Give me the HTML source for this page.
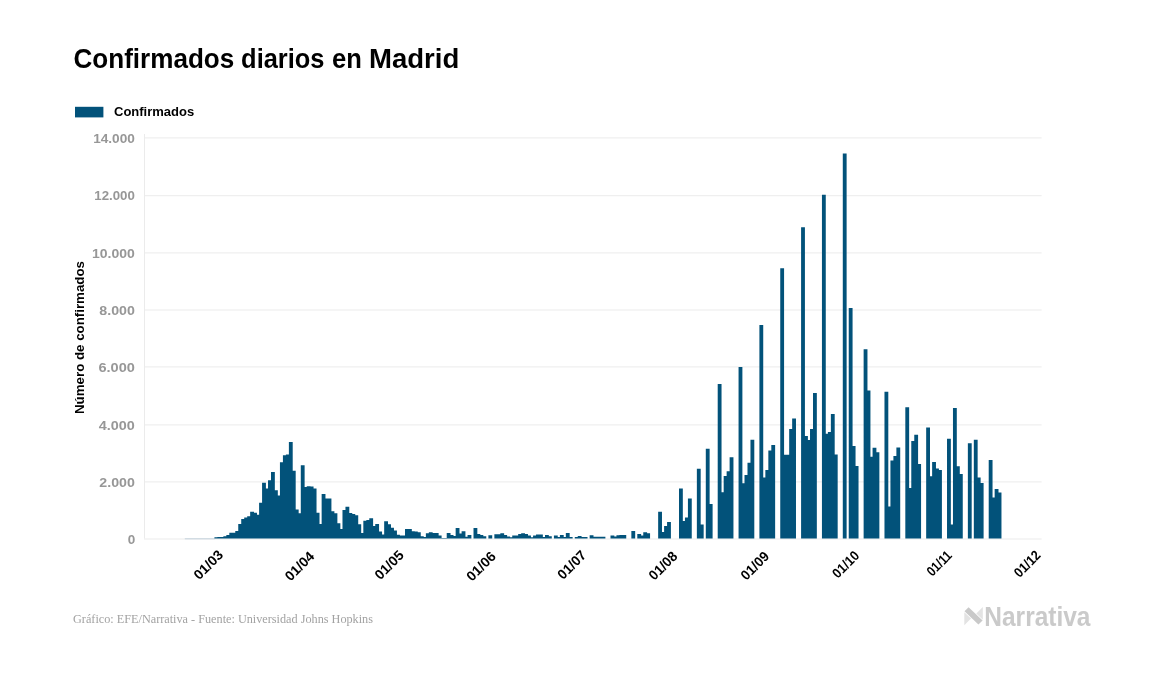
<!DOCTYPE html>
<html><head><meta charset="utf-8"><title>Confirmados diarios en Madrid</title>
<style>
html,body{margin:0;padding:0;background:#fff;}
body{width:1157px;height:674px;position:relative;overflow:hidden;font-family:"Liberation Sans",sans-serif;}
</style></head><body>
<svg width="1157" height="674" viewBox="0 0 1157 674" style="position:absolute;left:0;top:0;will-change:transform"><rect x="144" y="538.50" width="897.6" height="1" fill="#ebebeb"/><rect x="144" y="481.40" width="897.6" height="1" fill="#ebebeb"/><rect x="144" y="424.40" width="897.6" height="1" fill="#ebebeb"/><rect x="144" y="366.40" width="897.6" height="1" fill="#ebebeb"/><rect x="144" y="309.50" width="897.6" height="1" fill="#ebebeb"/><rect x="144" y="252.40" width="897.6" height="1" fill="#ebebeb"/><rect x="144" y="195.20" width="897.6" height="1" fill="#ebebeb"/><rect x="144" y="137.40" width="897.6" height="1" fill="#ebebeb"/><rect x="184.8" y="538.3" width="30" height="1" fill="#c3d2dc"/><rect x="144" y="134" width="1" height="404.5" fill="#ebebeb"/><path d="M214.43 538.50h3.828v-1.14h-3.828zM217.41 538.50h3.828v-1.40h-3.828zM220.38 538.50h3.828v-1.40h-3.828zM223.36 538.50h3.828v-2.20h-3.828zM226.34 538.50h3.828v-3.40h-3.828zM229.32 538.50h3.828v-5.69h-3.828zM232.30 538.50h3.828v-5.69h-3.828zM235.27 538.50h3.828v-7.60h-3.828zM238.25 538.50h3.828v-14.49h-3.828zM241.23 538.50h3.828v-19.61h-3.828zM244.21 538.50h3.828v-21.09h-3.828zM247.19 538.50h3.828v-22.29h-3.828zM250.16 538.50h3.828v-26.78h-3.828zM253.14 538.50h3.828v-25.81h-3.828zM256.12 538.50h3.828v-23.81h-3.828zM259.10 538.50h3.828v-35.81h-3.828zM262.08 538.50h3.828v-55.70h-3.828zM265.05 538.50h3.828v-50.02h-3.828zM268.03 538.50h3.828v-58.22h-3.828zM271.01 538.50h3.828v-66.51h-3.828zM273.99 538.50h3.828v-48.21h-3.828zM276.97 538.50h3.828v-43.10h-3.828zM279.94 538.50h3.828v-76.31h-3.828zM282.92 538.50h3.828v-83.20h-3.828zM285.90 538.50h3.828v-84.00h-3.828zM288.88 538.50h3.828v-96.60h-3.828zM291.86 538.50h3.828v-67.79h-3.828zM294.83 538.50h3.828v-28.89h-3.828zM297.81 538.50h3.828v-25.29h-3.828zM300.79 538.50h3.828v-73.19h-3.828zM303.77 538.50h3.828v-51.59h-3.828zM306.75 538.50h3.828v-52.30h-3.828zM309.72 538.50h3.828v-52.02h-3.828zM312.70 538.50h3.828v-50.02h-3.828zM315.68 538.50h3.828v-25.81h-3.828zM318.66 538.50h3.828v-14.49h-3.828zM321.64 538.50h3.828v-44.58h-3.828zM324.61 538.50h3.828v-40.01h-3.828zM327.59 538.50h3.828v-40.01h-3.828zM330.57 538.50h3.828v-27.29h-3.828zM333.55 538.50h3.828v-25.29h-3.828zM336.53 538.50h3.828v-15.29h-3.828zM339.50 538.50h3.828v-9.60h-3.828zM342.48 538.50h3.828v-28.61h-3.828zM345.46 538.50h3.828v-31.81h-3.828zM348.44 538.50h3.828v-25.49h-3.828zM351.42 538.50h3.828v-24.41h-3.828zM354.39 538.50h3.828v-23.29h-3.828zM357.37 538.50h3.828v-14.20h-3.828zM360.35 538.50h3.828v-5.49h-3.828zM363.33 538.50h3.828v-17.69h-3.828zM366.31 538.50h3.828v-18.49h-3.828zM369.28 538.50h3.828v-20.29h-3.828zM372.26 538.50h3.828v-12.49h-3.828zM375.24 538.50h3.828v-14.40h-3.828zM378.22 538.50h3.828v-7.00h-3.828zM381.20 538.50h3.828v-4.00h-3.828zM384.17 538.50h3.828v-17.29h-3.828zM387.15 538.50h3.828v-14.20h-3.828zM390.13 538.50h3.828v-10.69h-3.828zM393.11 538.50h3.828v-8.09h-3.828zM396.09 538.50h3.828v-3.86h-3.828zM399.06 538.50h3.828v-3.09h-3.828zM402.04 538.50h3.828v-3.09h-3.828zM405.02 538.50h3.828v-9.49h-3.828zM408.00 538.50h3.828v-9.49h-3.828zM410.98 538.50h3.828v-7.35h-3.828zM413.95 538.50h3.828v-7.00h-3.828zM416.93 538.50h3.828v-6.29h-3.828zM419.91 538.50h3.828v-2.29h-3.828zM422.89 538.50h3.828v-1.43h-3.828zM425.87 538.50h3.828v-5.20h-3.828zM428.84 538.50h3.828v-6.29h-3.828zM431.82 538.50h3.828v-5.60h-3.828zM434.80 538.50h3.828v-5.60h-3.828zM437.78 538.50h3.828v-3.09h-3.828zM440.76 538.50h3.828v-0.43h-3.828zM443.73 538.50h3.828v-0.43h-3.828zM446.71 538.50h3.828v-5.49h-3.828zM449.69 538.50h3.828v-3.60h-3.828zM452.67 538.50h3.828v-2.49h-3.828zM455.65 538.50h3.828v-10.60h-3.828zM458.62 538.50h3.828v-4.92h-3.828zM461.60 538.50h3.828v-7.32h-3.828zM464.58 538.50h3.828v-1.71h-3.828zM467.56 538.50h3.828v-3.52h-3.828zM473.51 538.50h3.828v-10.60h-3.828zM476.49 538.50h3.828v-4.40h-3.828zM479.47 538.50h3.828v-3.52h-3.828zM482.45 538.50h3.828v-2.20h-3.828zM485.43 538.50h3.828v-0.11h-3.828zM488.40 538.50h3.828v-3.20h-3.828zM494.36 538.50h3.828v-4.23h-3.828zM497.34 538.50h3.828v-4.23h-3.828zM500.32 538.50h3.828v-5.20h-3.828zM503.29 538.50h3.828v-3.60h-3.828zM506.27 538.50h3.828v-2.00h-3.828zM509.25 538.50h3.828v-1.34h-3.828zM512.23 538.50h3.828v-3.09h-3.828zM515.21 538.50h3.828v-3.09h-3.828zM518.18 538.50h3.828v-4.40h-3.828zM521.16 538.50h3.828v-5.20h-3.828zM524.14 538.50h3.828v-4.40h-3.828zM527.12 538.50h3.828v-3.09h-3.828zM530.10 538.50h3.828v-1.20h-3.828zM533.07 538.50h3.828v-3.09h-3.828zM536.05 538.50h3.828v-3.89h-3.828zM539.03 538.50h3.828v-3.89h-3.828zM542.01 538.50h3.828v-1.57h-3.828zM544.99 538.50h3.828v-3.60h-3.828zM547.96 538.50h3.828v-2.20h-3.828zM550.94 538.50h3.828v-0.11h-3.828zM553.92 538.50h3.828v-3.09h-3.828zM556.90 538.50h3.828v-1.49h-3.828zM559.88 538.50h3.828v-3.60h-3.828zM562.85 538.50h3.828v-1.49h-3.828zM565.83 538.50h3.828v-5.57h-3.828zM568.81 538.50h3.828v-1.57h-3.828zM574.77 538.50h3.828v-1.49h-3.828zM577.74 538.50h3.828v-2.49h-3.828zM580.72 538.50h3.828v-1.57h-3.828zM583.70 538.50h3.828v-1.57h-3.828zM589.66 538.50h3.828v-3.20h-3.828zM592.63 538.50h3.828v-1.71h-3.828zM595.61 538.50h3.828v-1.71h-3.828zM598.59 538.50h3.828v-1.71h-3.828zM601.57 538.50h3.828v-1.71h-3.828zM610.50 538.50h3.828v-3.09h-3.828zM613.48 538.50h3.828v-2.00h-3.828zM616.46 538.50h3.828v-3.29h-3.828zM619.44 538.50h3.828v-3.60h-3.828zM622.41 538.50h3.828v-3.52h-3.828zM631.35 538.50h3.828v-7.40h-3.828zM637.30 538.50h3.828v-4.40h-3.828zM640.28 538.50h3.828v-3.09h-3.828zM643.26 538.50h3.828v-6.29h-3.828zM646.24 538.50h3.828v-5.20h-3.828zM658.15 538.50h3.828v-26.69h-3.828zM661.13 538.50h3.828v-6.49h-3.828zM664.11 538.50h3.828v-12.60h-3.828zM667.08 538.50h3.828v-16.40h-3.828zM679.00 538.50h3.828v-50.10h-3.828zM681.97 538.50h3.828v-17.41h-3.828zM684.95 538.50h3.828v-21.01h-3.828zM687.93 538.50h3.828v-40.10h-3.828zM696.86 538.50h3.828v-69.71h-3.828zM699.84 538.50h3.828v-14.00h-3.828zM705.80 538.50h3.828v-89.63h-3.828zM708.78 538.50h3.828v-34.41h-3.828zM717.71 538.50h3.828v-154.50h-3.828zM720.69 538.50h3.828v-46.19h-3.828zM723.67 538.50h3.828v-62.39h-3.828zM726.64 538.50h3.828v-67.19h-3.828zM729.62 538.50h3.828v-81.20h-3.828zM738.56 538.50h3.828v-171.39h-3.828zM741.53 538.50h3.828v-55.19h-3.828zM744.51 538.50h3.828v-63.59h-3.828zM747.49 538.50h3.828v-75.71h-3.828zM750.47 538.50h3.828v-98.80h-3.828zM759.40 538.50h3.828v-213.61h-3.828zM762.38 538.50h3.828v-61.10h-3.828zM765.36 538.50h3.828v-68.39h-3.828zM768.34 538.50h3.828v-87.91h-3.828zM771.31 538.50h3.828v-93.51h-3.828zM780.25 538.50h3.828v-270.20h-3.828zM783.23 538.50h3.828v-83.71h-3.828zM786.20 538.50h3.828v-83.71h-3.828zM789.18 538.50h3.828v-109.60h-3.828zM792.16 538.50h3.828v-120.09h-3.828zM801.09 538.50h3.828v-311.29h-3.828zM804.07 538.50h3.828v-102.40h-3.828zM807.05 538.50h3.828v-98.40h-3.828zM810.03 538.50h3.828v-109.60h-3.828zM813.01 538.50h3.828v-145.39h-3.828zM821.94 538.50h3.828v-343.70h-3.828zM824.92 538.50h3.828v-104.80h-3.828zM827.90 538.50h3.828v-106.49h-3.828zM830.87 538.50h3.828v-124.41h-3.828zM833.85 538.50h3.828v-84.00h-3.828zM842.79 538.50h3.828v-385.09h-3.828zM848.74 538.50h3.828v-230.41h-3.828zM851.72 538.50h3.828v-92.51h-3.828zM854.70 538.50h3.828v-72.59h-3.828zM863.63 538.50h3.828v-189.23h-3.828zM866.61 538.50h3.828v-148.10h-3.828zM869.59 538.50h3.828v-81.80h-3.828zM872.57 538.50h3.828v-90.71h-3.828zM875.54 538.50h3.828v-86.31h-3.828zM884.48 538.50h3.828v-146.82h-3.828zM887.46 538.50h3.828v-31.90h-3.828zM890.43 538.50h3.828v-77.99h-3.828zM893.41 538.50h3.828v-82.40h-3.828zM896.39 538.50h3.828v-90.88h-3.828zM905.32 538.50h3.828v-131.30h-3.828zM908.30 538.50h3.828v-50.42h-3.828zM911.28 538.50h3.828v-97.40h-3.828zM914.26 538.50h3.828v-103.69h-3.828zM917.24 538.50h3.828v-74.59h-3.828zM926.17 538.50h3.828v-110.89h-3.828zM929.15 538.50h3.828v-62.30h-3.828zM932.13 538.50h3.828v-76.39h-3.828zM935.10 538.50h3.828v-70.11h-3.828zM938.08 538.50h3.828v-68.51h-3.828zM947.02 538.50h3.828v-99.69h-3.828zM949.99 538.50h3.828v-14.09h-3.828zM952.97 538.50h3.828v-130.61h-3.828zM955.95 538.50h3.828v-72.31h-3.828zM958.93 538.50h3.828v-64.51h-3.828zM967.86 538.50h3.828v-95.20h-3.828zM973.82 538.50h3.828v-98.80h-3.828zM976.80 538.50h3.828v-61.10h-3.828zM979.77 538.50h3.828v-55.50h-3.828zM988.71 538.50h3.828v-78.39h-3.828zM991.69 538.50h3.828v-40.98h-3.828zM994.66 538.50h3.828v-49.50h-3.828zM997.64 538.50h3.828v-46.10h-3.828z" fill="#02527a" shape-rendering="auto"/><text x="135.20" y="543.70" text-anchor="end" font-family="Liberation Sans" font-weight="bold" font-size="13.5" fill="#979797" textLength="7.51" lengthAdjust="spacingAndGlyphs">0</text><text x="134.90" y="486.60" text-anchor="end" font-family="Liberation Sans" font-weight="bold" font-size="13.5" fill="#979797" textLength="35.58" lengthAdjust="spacingAndGlyphs">2.000</text><text x="134.90" y="429.60" text-anchor="end" font-family="Liberation Sans" font-weight="bold" font-size="13.5" fill="#979797" textLength="36.03" lengthAdjust="spacingAndGlyphs">4.000</text><text x="134.90" y="371.60" text-anchor="end" font-family="Liberation Sans" font-weight="bold" font-size="13.5" fill="#979797" textLength="36.48" lengthAdjust="spacingAndGlyphs">6.000</text><text x="134.90" y="314.70" text-anchor="end" font-family="Liberation Sans" font-weight="bold" font-size="13.5" fill="#979797" textLength="35.58" lengthAdjust="spacingAndGlyphs">8.000</text><text x="134.90" y="257.60" text-anchor="end" font-family="Liberation Sans" font-weight="bold" font-size="13.5" fill="#979797" textLength="42.86" lengthAdjust="spacingAndGlyphs">10.000</text><text x="134.90" y="200.40" text-anchor="end" font-family="Liberation Sans" font-weight="bold" font-size="13.5" fill="#979797" textLength="40.61" lengthAdjust="spacingAndGlyphs">12.000</text><text x="134.90" y="142.60" text-anchor="end" font-family="Liberation Sans" font-weight="bold" font-size="13.5" fill="#979797" textLength="41.73" lengthAdjust="spacingAndGlyphs">14.000</text><text transform="translate(224.06,555.72) rotate(-45)" text-anchor="end" font-family="Liberation Sans" font-weight="bold" font-size="13.8" fill="#000" textLength="35.21" lengthAdjust="spacingAndGlyphs">01/03</text><text transform="translate(315.18,557.16) rotate(-45)" text-anchor="end" font-family="Liberation Sans" font-weight="bold" font-size="13.8" fill="#000" textLength="34.87" lengthAdjust="spacingAndGlyphs">01/04</text><text transform="translate(404.72,556.04) rotate(-45)" text-anchor="end" font-family="Liberation Sans" font-weight="bold" font-size="13.8" fill="#000" textLength="34.64" lengthAdjust="spacingAndGlyphs">01/05</text><text transform="translate(496.80,557.16) rotate(-45)" text-anchor="end" font-family="Liberation Sans" font-weight="bold" font-size="13.8" fill="#000" textLength="35.21" lengthAdjust="spacingAndGlyphs">01/06</text><text transform="translate(587.24,556.04) rotate(-45)" text-anchor="end" font-family="Liberation Sans" font-weight="bold" font-size="13.8" fill="#000" textLength="34.19" lengthAdjust="spacingAndGlyphs">01/07</text><text transform="translate(678.26,557.16) rotate(-45)" text-anchor="end" font-family="Liberation Sans" font-weight="bold" font-size="13.8" fill="#000" textLength="33.85" lengthAdjust="spacingAndGlyphs">01/08</text><text transform="translate(770.14,557.16) rotate(-45)" text-anchor="end" font-family="Liberation Sans" font-weight="bold" font-size="13.8" fill="#000" textLength="33.85" lengthAdjust="spacingAndGlyphs">01/09</text><text transform="translate(860.14,556.52) rotate(-45)" text-anchor="end" font-family="Liberation Sans" font-weight="bold" font-size="13.8" fill="#000" textLength="31.70" lengthAdjust="spacingAndGlyphs">01/10</text><text transform="translate(952.80,556.36) rotate(-45)" text-anchor="end" font-family="Liberation Sans" font-weight="bold" font-size="13.8" fill="#000" textLength="29.21" lengthAdjust="spacingAndGlyphs">01/11</text><text transform="translate(1041.50,556.20) rotate(-45)" text-anchor="end" font-family="Liberation Sans" font-weight="bold" font-size="13.8" fill="#000" textLength="31.13" lengthAdjust="spacingAndGlyphs">01/12</text><text x="73.48" y="67.6" font-family="Liberation Sans" font-weight="bold" font-size="27.5" fill="#000" textLength="160.80" lengthAdjust="spacingAndGlyphs">Confirmados</text><text x="241.10" y="67.6" font-family="Liberation Sans" font-weight="bold" font-size="27.5" fill="#000" textLength="83.42" lengthAdjust="spacingAndGlyphs">diarios</text><text x="332.12" y="67.6" font-family="Liberation Sans" font-weight="bold" font-size="27.5" fill="#000" textLength="29.80" lengthAdjust="spacingAndGlyphs">en</text><text x="368.96" y="67.6" font-family="Liberation Sans" font-weight="bold" font-size="27.5" fill="#000" textLength="90.34" lengthAdjust="spacingAndGlyphs">Madrid</text><rect x="75" y="106.8" width="28.4" height="10.6" fill="#02527a"/><text x="114" y="116.1" font-family="Liberation Sans" font-weight="bold" font-size="12.4" fill="#000" textLength="80.2" lengthAdjust="spacingAndGlyphs">Confirmados</text><text transform="translate(83.6,414) rotate(-90)" font-family="Liberation Sans" font-weight="bold" font-size="13.2" fill="#000" textLength="153" lengthAdjust="spacingAndGlyphs">Número de confirmados</text><text x="73" y="622.5" font-family="Liberation Serif" font-size="12.3" fill="#a2a2a2" textLength="300" lengthAdjust="spacingAndGlyphs">Gráfico: EFE/Narrativa - Fuente: Universidad Johns Hopkins</text><polygon points="964.3,612.3 964.3,625.3 971,618.6" fill="#e3e3e3"/><polygon points="982.8,607 982.8,619.8 976.3,613.4" fill="#e3e3e3"/><polygon points="964.5,611.3 968.6,607.3 982.6,620.4 978.4,624.6" fill="#c9c9c9"/><text x="984.3" y="626.1" font-family="Liberation Sans" font-weight="bold" font-size="27.2" fill="#cacaca" textLength="106.2" lengthAdjust="spacingAndGlyphs">Narrativa</text></svg>
</body></html>
